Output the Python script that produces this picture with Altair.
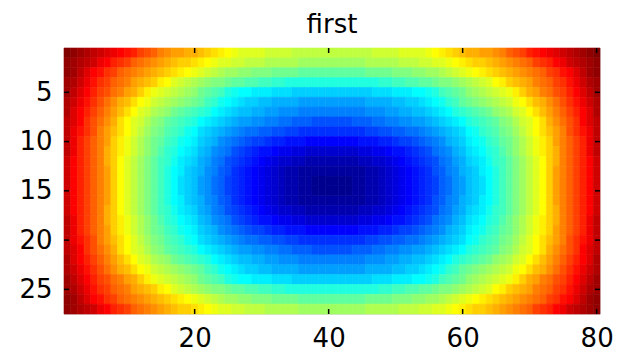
import altair as alt
import pandas as pd

title_text = "first"
n_cols = 80
n_rows = 27
x_ticks = [20, 40, 60, 80]
y_ticks = [5, 10, 15, 20, 25]

# Colour level of every cell (jet colormap index: 1 = darkest blue ... 64 = darkest red),
# read from the picture. Upper-left quadrant: rows 1-14, columns 1-40.
# The picture is mirror-symmetric left/right and (about row 14.5) top/bottom.
q_row01 = [64, 63, 62, 61, 60, 59, 58, 57, 56, 55, 54, 52, 51, 50, 48, 47, 46, 46, 45, 45,
           44, 43, 42, 41, 40, 39, 38, 38, 38, 38, 37, 37, 37, 37, 36, 36, 36, 36, 36, 36]
q_row02 = [63, 62, 61, 60, 59, 57, 56, 54, 53, 52, 50, 49, 48, 47, 46, 45, 44, 43, 43, 42,
           41, 40, 39, 38, 38, 37, 37, 36, 36, 36, 35, 35, 35, 35, 35, 34, 34, 34, 34, 34]
q_row03 = [63, 62, 60, 58, 56, 55, 53, 52, 50, 49, 48, 47, 46, 45, 44, 43, 42, 41, 40, 39,
           38, 37, 36, 35, 34, 34, 33, 33, 32, 32, 32, 31, 31, 31, 31, 30, 30, 30, 30, 30]
q_row04 = [62, 61, 59, 57, 55, 53, 52, 50, 49, 48, 46, 45, 44, 43, 41, 40, 38, 37, 36, 35,
           34, 33, 32, 32, 31, 30, 30, 29, 29, 28, 28, 27, 27, 26, 26, 26, 26, 26, 26, 26]
q_row05 = [62, 60, 58, 56, 54, 52, 51, 49, 48, 46, 45, 43, 41, 39, 38, 37, 36, 35, 34, 33,
           31, 30, 29, 28, 26, 25, 24, 24, 23, 23, 23, 22, 22, 22, 21, 21, 21, 21, 21, 21]
q_row06 = [61, 59, 57, 55, 53, 51, 49, 47, 45, 44, 42, 40, 39, 37, 36, 35, 34, 33, 32, 31,
           30, 28, 27, 25, 24, 23, 22, 21, 21, 20, 20, 19, 19, 19, 19, 18, 18, 18, 18, 18]
q_row07 = [61, 58, 56, 54, 52, 50, 48, 46, 44, 42, 40, 38, 37, 35, 34, 33, 31, 30, 29, 28,
           27, 26, 24, 23, 22, 21, 20, 20, 19, 19, 18, 18, 17, 17, 17, 16, 16, 16, 16, 16]
q_row08 = [60, 58, 56, 53, 51, 49, 47, 45, 42, 40, 38, 37, 35, 33, 32, 30, 29, 28, 27, 26,
           24, 23, 22, 21, 20, 19, 18, 18, 17, 17, 16, 16, 15, 15, 14, 14, 14, 13, 13, 13]
q_row09 = [60, 57, 55, 53, 51, 48, 46, 44, 42, 40, 38, 36, 34, 32, 31, 29, 28, 27, 25, 24,
           22, 21, 20, 19, 18, 17, 16, 15, 15, 14, 14, 13, 13, 12, 12, 11, 11, 11, 11, 11]
q_row10 = [60, 57, 54, 52, 50, 48, 46, 43, 41, 39, 37, 35, 33, 31, 30, 28, 27, 25, 24, 23,
           21, 20, 19, 17, 16, 15, 14, 13, 12, 12, 11, 10, 10, 9, 9, 9, 8, 8, 8, 8]
q_row11 = [60, 57, 54, 52, 50, 48, 45, 43, 41, 39, 37, 35, 33, 31, 29, 27, 26, 24, 23, 22,
           20, 19, 17, 16, 15, 13, 12, 11, 10, 9, 9, 8, 7, 7, 6, 6, 5, 5, 5, 5]
q_row12 = [59, 56, 54, 52, 50, 48, 45, 43, 40, 38, 36, 34, 32, 30, 28, 27, 25, 23, 22, 21,
           19, 18, 16, 15, 13, 12, 11, 10, 9, 8, 7, 6, 5, 5, 4, 4, 3, 3, 3, 3]
q_row13 = [59, 56, 54, 52, 50, 48, 46, 43, 40, 38, 36, 34, 32, 30, 28, 26, 24, 23, 21, 20,
           19, 17, 16, 14, 13, 11, 10, 9, 8, 7, 6, 5, 4, 3, 3, 2, 2, 2, 2, 2]
q_row14 = [59, 56, 54, 52, 50, 48, 46, 43, 40, 38, 36, 34, 32, 30, 28, 26, 24, 22, 21, 20,
           18, 17, 15, 14, 12, 11, 10, 9, 8, 7, 6, 5, 4, 3, 3, 2, 2, 1, 1, 1]

quadrant = [q_row01, q_row02, q_row03, q_row04, q_row05, q_row06, q_row07,
            q_row08, q_row09, q_row10, q_row11, q_row12, q_row13, q_row14]

# jet colormap anchor levels and colours
jet_levels = [1, 8, 24, 40, 56, 64]
jet_colors = ["#00008f", "#0000ff", "#00ffff", "#ffff00", "#ff0000", "#800000"]

records = []
for r in range(1, n_rows + 1):
    src_r = r if r <= 14 else 29 - r
    for c in range(1, n_cols + 1):
        src_c = c if c <= 40 else 81 - c
        records.append({
            "x0": c - 0.5, "x1": c + 0.5,
            "y0": r - 0.5, "y1": r + 0.5,
            "level": quadrant[src_r - 1][src_c - 1],
        })
cells = pd.DataFrame(records)

W, H = 536, 266
FONT = "DejaVu Sans"
FS = 26

x_scale = alt.Scale(domain=[0.5, n_cols + 0.5], nice=False, zero=False)
y_scale = alt.Scale(domain=[0.5, n_rows + 0.5], nice=False, zero=False, reverse=True)
x_axis = alt.Axis(values=x_ticks, title=None, grid=False, ticks=False, domain=False,
                  labelFont=FONT, labelFontSize=FS, labelColor="black", labelPadding=11,
                  labelFlush=False, labelOverlap=False)
y_axis = alt.Axis(values=y_ticks, title=None, grid=False, ticks=False, domain=False,
                  labelFont=FONT, labelFontSize=FS, labelColor="black", labelPadding=12,
                  labelOverlap=False)

jet_scale = alt.Scale(domain=jet_levels, range=jet_colors, interpolate="rgb")

heat = alt.Chart(cells).mark_rect(strokeWidth=0.6).encode(
    x=alt.X("x0:Q", scale=x_scale, axis=x_axis),
    x2="x1:Q",
    y=alt.Y("y0:Q", scale=y_scale, axis=y_axis),
    y2="y1:Q",
    color=alt.Color("level:Q", scale=jet_scale, legend=None),
    stroke=alt.Stroke("level:Q", scale=jet_scale, legend=None),
)

xt = pd.DataFrame({"x0": x_ticks})
yt = pd.DataFrame({"y0": y_ticks})
TL = 5
tick_style = dict(color="black", strokeWidth=1.5)

top_ticks = alt.Chart(xt).mark_rule(**tick_style).encode(
    x=alt.X("x0:Q", scale=x_scale, axis=x_axis), y=alt.value(0), y2=alt.value(TL))
bottom_ticks = alt.Chart(xt).mark_rule(**tick_style).encode(
    x=alt.X("x0:Q", scale=x_scale, axis=x_axis), y=alt.value(H - TL), y2=alt.value(H))
left_ticks = alt.Chart(yt).mark_rule(**tick_style).encode(
    y=alt.Y("y0:Q", scale=y_scale, axis=y_axis), x=alt.value(0), x2=alt.value(TL))
right_ticks = alt.Chart(yt).mark_rule(**tick_style).encode(
    y=alt.Y("y0:Q", scale=y_scale, axis=y_axis), x=alt.value(W - TL), x2=alt.value(W))

chart = alt.layer(heat, top_ticks, bottom_ticks, left_ticks, right_ticks).properties(
    width=W, height=H,
    title=alt.TitleParams(title_text, font=FONT, fontSize=FS, fontWeight="normal",
                          color="black", anchor="middle", offset=9),
    autosize=alt.AutoSizeParams(type="none"),
    padding={"left": 56, "top": 40, "right": 13, "bottom": 40},
).configure_view(stroke="#000000", strokeWidth=1.5).configure(background="white")

chart.save("out.html", embed_options={"renderer": "svg", "actions": False})
